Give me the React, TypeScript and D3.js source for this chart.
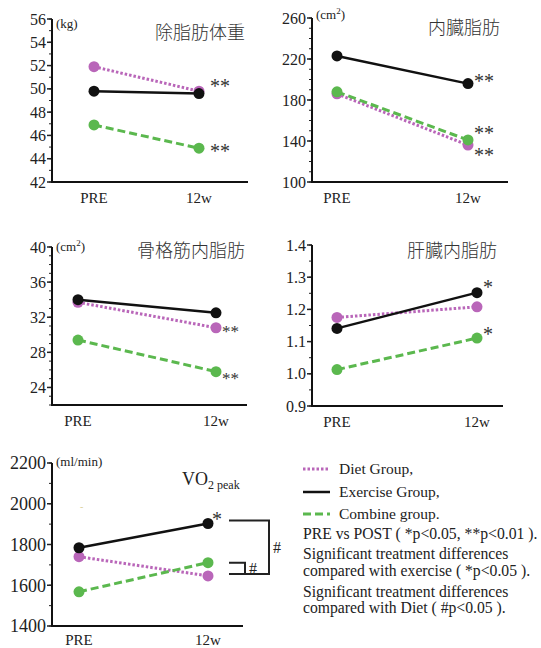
import * as d3 from "d3";

// time points and groups
const timepoints = ["PRE", "12w"];
const groupNames = ["Diet Group,", "Exercise Group,", "Combine group."];

// 除脂肪体重 (kg)
const leanDiet = [51.9, 49.8];
const leanExercise = [49.8, 49.6];
const leanCombine = [46.9, 44.9];
const leanStars = ["**", "", "**"];

// 内臓脂肪 (cm2)
const visceralDiet = [186, 136];
const visceralExercise = [223, 196];
const visceralCombine = [188, 141];
const visceralStars = ["**", "**", "**"];

// 骨格筋内脂肪 (cm2)
const muscleDiet = [33.7, 30.8];
const muscleExercise = [34.0, 32.5];
const muscleCombine = [29.4, 25.8];
const muscleStars = ["**", "", "**"];

// 肝臓内脂肪
const liverDiet = [1.175, 1.208];
const liverExercise = [1.141, 1.252];
const liverCombine = [1.013, 1.111];
const liverStars = ["", "*", "*"];

// VO2 peak (ml/min)
const vo2Diet = [1740, 1646];
const vo2Exercise = [1784, 1903];
const vo2Combine = [1568, 1711];
const vo2Stars = ["", "*", ""];

const noteLines = [
  "PRE vs POST ( *p<0.05, **p<0.01 ).",
  "Significant treatment differences",
  "compared with exercise ( *p<0.05 ).",
  "Significant treatment differences",
  "compared with Diet ( #p<0.05 ).",
];

const SERIF = "Liberation Serif, Times New Roman, Times, DejaVu Serif, serif";
const CJK = "Noto Sans CJK JP, sans-serif";

// order: diet, exercise, combine
const styles = [
  { color: "#b966b9", dash: "2.5,2", width: 3 },
  { color: "#111111", dash: null, width: 2.5 },
  { color: "#5bb84e", dash: "8,4", width: 3 },
];
const drawOrder = [0, 2, 1];

type PanelProps = {
  left: number; right: number; top: number; bottom: number;
  preX: number; postX: number;
  domain: [number, number];
  major: number[]; minorStep: number; fmt: (v: number) => string;
  tickFont: number; xLabelDy?: number;
  series: number[][]; stars: string[];
  starDx: number; starDy: number[]; starFont: number;
  title?: string; titleX?: number; titleY?: number;
  unit?: string; unitY?: number;
  children?: any;
};

function Panel(p: PanelProps) {
  const y = d3.scaleLinear().domain(p.domain).range([p.bottom, p.top]);
  const x = d3.scalePoint().domain(timepoints).range([p.preX, p.postX]);
  const line = d3.line<number>().x((_, i) => x(timepoints[i])!).y((v) => y(v));
  const minors = d3.range(p.domain[0], p.domain[1] + p.minorStep / 2, p.minorStep);
  return (
    <g>
      {minors.map((v, i) => (
        <line key={"mn" + i} x1={p.left - 3} x2={p.left} y1={y(v)} y2={y(v)} stroke="#222" strokeWidth={1} />
      ))}
      {p.major.map((v, i) => (
        <g key={"mj" + i}>
          <line x1={p.left - 5} x2={p.left} y1={y(v)} y2={y(v)} stroke="#222" strokeWidth={1.5} />
          <text x={p.left - 6} y={y(v)} dy="0.35em" textAnchor="end" style={{ fontFamily: SERIF }} fontSize={p.tickFont} fill="#222">
            {p.fmt(v)}
          </text>
        </g>
      ))}
      <line x1={p.left} x2={p.left} y1={p.top} y2={p.bottom} stroke="#111" strokeWidth={2} />
      <line x1={p.left - 1} x2={p.right} y1={p.bottom} y2={p.bottom} stroke="#111" strokeWidth={2} />
      {timepoints.map((t) => (
        <text key={t} x={x(t)} y={p.bottom + (p.xLabelDy ?? 21)} textAnchor="middle" style={{ fontFamily: SERIF }} fontSize={15} fill="#222">
          {t}
        </text>
      ))}
      {drawOrder.map((si) => (
        <g key={"s" + si}>
          <path d={line(p.series[si]) || ""} fill="none" stroke={styles[si].color} strokeWidth={styles[si].width}
            strokeDasharray={styles[si].dash || undefined} />
          {p.series[si].map((v, i) => (
            <circle key={i} cx={x(timepoints[i])} cy={y(v)} r={5.5} fill={styles[si].color} />
          ))}
        </g>
      ))}
      {p.stars.map((s, si) => s ? (
        <text key={"st" + si} x={p.postX + p.starDx} y={y(p.series[si][1]) + p.starDy[si]} style={{ fontFamily: SERIF }}
          fontSize={p.starFont} fill="#333">{s}</text>
      ) : null)}
      {p.title && (
        <text x={p.titleX} y={p.titleY} textAnchor="end" style={{ fontFamily: CJK }} fontWeight={300} fontSize={18} fill="#333">{p.title}</text>
      )}
      {p.unit && (
        <text x={p.left + 4} y={p.unitY} style={{ fontFamily: SERIF }} fontSize={13} fill="#222">
          {p.unit === "cm2" ? (<>(cm<tspan dy={-5} fontSize={9}>2</tspan><tspan dy={5}>)</tspan></>) : p.unit}
        </text>
      )}
      {p.children}
    </g>
  );
}

function Vo2Panel() {
  const domain: [number, number] = [1400, 2200];
  const top = 463, bottom = 626;
  const y = d3.scaleLinear().domain(domain).range([bottom, top]);
  const postX = 208;
  const bx0 = postX + 21;
  const outerX = 269, innerX = 245;
  const yEx = y(vo2Exercise[1]) - 3;
  const yDiet = y(vo2Diet[1]) - 2;
  const yComb = y(vo2Combine[1]);
  return (
    <Panel left={52} right={243} top={top} bottom={bottom} preX={79} postX={postX}
      domain={domain} major={d3.range(1400, 2201, 200)} minorStep={100} fmt={(v) => String(v)} tickFont={18}
      xLabelDy={19}
      series={[vo2Diet, vo2Exercise, vo2Combine]} stars={vo2Stars} starDx={4} starDy={[0, 2, 0]} starFont={20}
      unit="(ml/min)" unitY={466}>
      <text x={80} y={510} style={{ fontFamily: SERIF }} fontSize={10} fill="#d9cf9a">-</text>
      <text x={182} y={485} style={{ fontFamily: SERIF }} fontSize={18} fill="#222">
        VO<tspan fontSize={12} dy={4}>2 peak</tspan>
      </text>
      <path d={`M${bx0},${yEx} H${outerX} V${yDiet} H${bx0}`} fill="none" stroke="#222" strokeWidth={2} />
      <path d={`M${bx0},${yComb} H${innerX} V${yDiet}`} fill="none" stroke="#222" strokeWidth={2} />
      <text x={outerX + 4} y={(yEx + yDiet) / 2 + 6} style={{ fontFamily: SERIF }} fontSize={16} fill="#222">#</text>
      <text x={innerX + 4} y={(yComb + yDiet) / 2 + 6} style={{ fontFamily: SERIF }} fontSize={16} fill="#222">#</text>
    </Panel>
  );
}

function Legend() {
  const lx0 = 303, lx1 = 330, tx = 339;
  const rowY = [469, 492, 514];
  const noteY = [539, 559, 576, 597, 613];
  return (
    <g>
      {groupNames.map((name, i) => (
        <g key={name}>
          <line x1={lx0} x2={lx1} y1={rowY[i]} y2={rowY[i]} stroke={styles[i].color} strokeWidth={styles[i].width}
            strokeDasharray={styles[i].dash || undefined} />
          <text x={tx} y={rowY[i] + 5} style={{ fontFamily: SERIF }} fontSize={15.5} fill="#222">{name}</text>
        </g>
      ))}
      {noteLines.map((t, i) => (
        <text key={i} x={lx0} y={noteY[i]} style={{ fontFamily: SERIF }} fontSize={15.7} fill="#222">{t}</text>
      ))}
    </g>
  );
}

export default function App() {
  return (
    <svg width={541} height={648} style={{ position: "absolute", left: 0, top: 0, background: "#fff" }}>
      <Panel left={52} right={248} top={19} bottom={182} preX={94} postX={199}
        domain={[42, 56]} major={d3.range(42, 57, 2)} minorStep={1} fmt={(v) => String(v)} tickFont={16}
        series={[leanDiet, leanExercise, leanCombine]} stars={leanStars} starDx={11} starDy={[1.5, 0, 10]} starFont={20}
        title="除脂肪体重" titleX={245} titleY={39} unit="(kg)" unitY={28} />
      <Panel left={312} right={508} top={18} bottom={182} preX={337} postX={468}
        domain={[100, 260]} major={d3.range(100, 261, 40)} minorStep={10} fmt={(v) => String(v)} tickFont={16}
        series={[visceralDiet, visceralExercise, visceralCombine]} stars={visceralStars} starDx={6} starDy={[16.5, 4.5, 0]} starFont={20}
        title="内臓脂肪" titleX={500} titleY={34} unit="cm2" unitY={19} />
      <Panel left={52} right={247} top={247} bottom={405} preX={78} postX={216}
        domain={[22, 40]} major={d3.range(24, 41, 4)} minorStep={1} fmt={(v) => String(v)} tickFont={16}
        series={[muscleDiet, muscleExercise, muscleCombine]} stars={muscleStars} starDx={6} starDy={[9, 0, 12.5]} starFont={17}
        title="骨格筋内脂肪" titleX={245} titleY={257} unit="cm2" unitY={251} />
      <Panel left={312} right={503} top={245} bottom={406} preX={337} postX={477}
        domain={[0.9, 1.4]} major={d3.range(0, 6).map((i) => 0.9 + i * 0.1)} minorStep={0.05} fmt={(v) => v.toFixed(1)} tickFont={16}
        series={[liverDiet, liverExercise, liverCombine]} stars={liverStars} starDx={6} starDy={[0, 1.5, 3]} starFont={20}
        title="肝臓内脂肪" titleX={497} titleY={257} />
      <Vo2Panel />
      <Legend />
    </svg>
  );
}
